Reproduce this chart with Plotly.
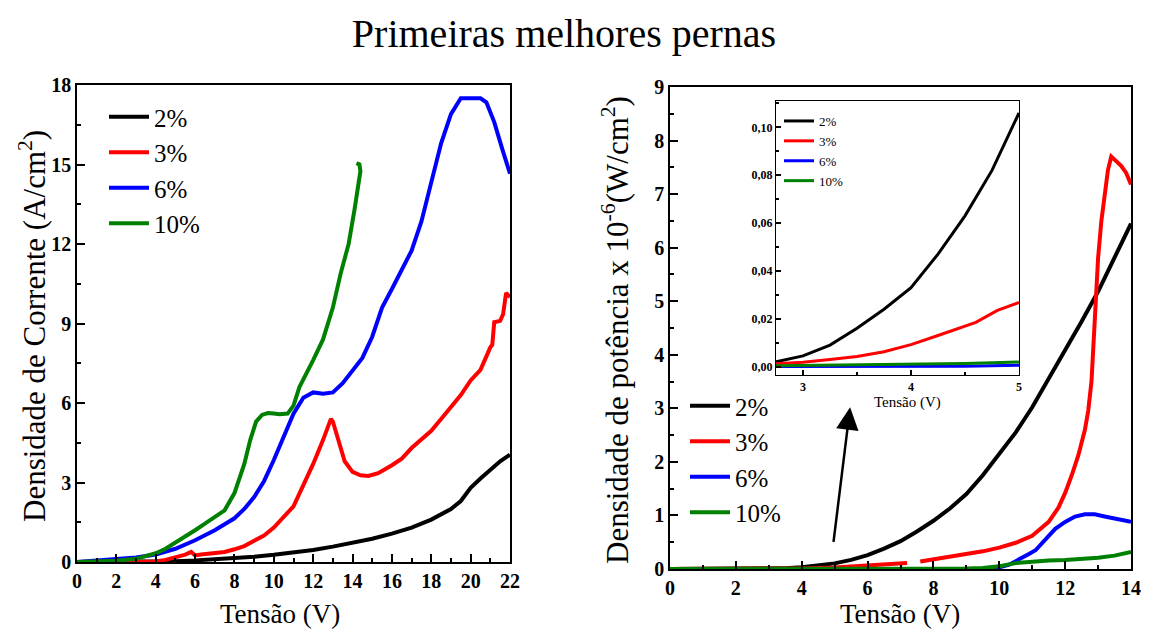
import plotly.graph_objects as go

# ---------------- Left panel: current density ----------------
L_black_x = [0, 2, 4, 5, 6, 7, 8, 9, 10, 11, 12, 13, 14, 15, 16, 17, 18, 19, 19.5, 20, 20.5, 21, 21.5, 22]
L_black_y = [0, 0, 0.01, 0.03, 0.06, 0.1, 0.15, 0.2, 0.27, 0.35, 0.45, 0.58, 0.72, 0.88, 1.07, 1.3, 1.6, 2.0, 2.3, 2.8, 3.15, 3.5, 3.8, 4.05]

L_red_x = [0, 3, 4, 4.5, 5, 5.5, 5.8, 6.0, 6.3, 7, 7.5, 8, 8.5, 9, 9.5, 10, 10.5, 11, 11.5, 12, 12.5, 12.9, 13.0,
           13.3, 13.6, 14, 14.4, 14.8, 15.3, 16, 16.5, 17, 17.5, 18, 18.5, 19, 19.5, 20, 20.5, 21, 21.1, 21.2, 21.5,
           21.65, 21.8, 22]
L_red_y = [0, 0, 0.02, 0.08, 0.18, 0.28, 0.38, 0.25, 0.28, 0.32, 0.38, 0.48, 0.6, 0.8, 1.0, 1.3, 1.7, 2.1, 2.9, 3.7,
           4.6, 5.4, 5.3, 4.5, 3.8, 3.4, 3.27, 3.25, 3.35, 3.65, 3.9, 4.3, 4.65, 4.95, 5.4, 5.85, 6.3, 6.85, 7.25,
           8.1, 8.2, 9.05, 9.1, 9.35, 10.15, 10.0]

L_blue_x = [0, 1, 2, 3, 4, 5, 6, 7, 8, 8.5, 9, 9.5, 10, 10.5, 11, 11.5, 12, 12.5, 13, 13.5, 14, 14.5, 15, 15.5, 16,
            16.5, 17, 17.5, 18, 18.5, 19, 19.5, 20, 20.5, 20.8, 21.2, 21.6, 22]
L_blue_y = [0, 0.05, 0.1, 0.17, 0.28, 0.5, 0.82, 1.2, 1.65, 2.0, 2.45, 3.05, 3.85, 4.7, 5.6, 6.2, 6.4, 6.35, 6.4,
            6.75, 7.2, 7.7, 8.5, 9.6, 10.3, 11.0, 11.75, 12.85, 14.35, 15.8, 16.9, 17.5, 17.5, 17.5, 17.35, 16.6,
            15.6, 14.65]

L_green_x = [0, 1, 2, 3, 4, 4.5, 5, 5.5, 6, 6.5, 7, 7.5, 8, 8.5, 8.8, 9.1, 9.4, 9.7, 10, 10.3, 10.7, 11, 11.3,
             11.7, 12, 12.5, 13, 13.4, 13.8, 14.1, 14.3, 14.4, 14.35, 14.2]
L_green_y = [0, 0.02, 0.05, 0.12, 0.33, 0.5, 0.72, 0.95, 1.2, 1.45, 1.72, 1.95, 2.6, 3.7, 4.6, 5.3, 5.55, 5.62,
             5.6, 5.58, 5.6, 5.9, 6.6, 7.15, 7.62, 8.4, 9.6, 10.9, 12.0, 13.3, 14.3, 14.75, 15.0, 15.05]

# ---------------- Right panel: power density ----------------
R_black_x = [0, 1, 2, 3, 3.5, 4, 4.5, 5, 5.5, 6, 6.5, 7, 7.5, 8, 8.5, 9, 9.5, 10, 10.5, 11, 11.5, 12, 12.5, 13, 13.5, 14]
R_black_y = [0, 0, 0, 0.005, 0.015, 0.033, 0.06, 0.105, 0.17, 0.26, 0.38, 0.52, 0.7, 0.9, 1.13, 1.4, 1.75, 2.15,
             2.55, 3.02, 3.55, 4.1, 4.62, 5.18, 5.8, 6.45]

R_red_x = [0, 2, 3, 4, 5, 6, 7.2, None, 7.6, 8, 8.5, 9, 9.5, 10, 10.5, 11, 11.5, 11.8, 12, 12.2, 12.4, 12.6, 12.7,
           12.8, 12.9, 13.0, 13.1, 13.2, 13.3, 13.4, 13.5, 13.7, 13.85, 14]
R_red_y = [0, 0, 0.002, 0.01, 0.03, 0.06, 0.11, None, 0.14, 0.18, 0.22, 0.27, 0.33, 0.4, 0.49, 0.62, 0.88, 1.15,
           1.42, 1.75, 2.12, 2.6, 2.95, 3.5, 4.85, 5.8, 6.5, 7.0, 7.45, 7.7, 7.65, 7.53, 7.4, 7.18]

R_blue_x = [0, 9, 9.5, 10, 10.3, 10.6, 10.75, 10.9, 11.1, 11.4, 11.7, 12, 12.3, 12.6, 12.9, 13.2, 13.6, 14]
R_blue_y = [0, 0, 0.005, 0.03, 0.08, 0.18, 0.24, 0.28, 0.35, 0.55, 0.75, 0.88, 0.98, 1.02, 1.02, 0.98, 0.93, 0.88]

R_green_x = [0, 8, 9, 9.5, 10, 10.5, 11, 11.5, 12, 12.5, 13, 13.5, 14]
R_green_y = [0, 0, 0.01, 0.02, 0.05, 0.11, 0.14, 0.16, 0.17, 0.19, 0.21, 0.25, 0.32]

# ---------------- Inset (zoom 2.75 - 5 V) ----------------
I_x = [2.75, 3.0, 3.25, 3.5, 3.75, 4.0, 4.25, 4.5, 4.75, 5.0]
I_black_y = [0.002, 0.0045, 0.009, 0.016, 0.024, 0.033, 0.047, 0.063, 0.082, 0.106]
I_red_x = [2.75, 3.0, 3.25, 3.5, 3.75, 4.0, 4.25, 4.45, 4.6, 4.8, 5.0]
I_red_y = [0.0012, 0.0018, 0.003, 0.0042, 0.0062, 0.0092, 0.013, 0.016, 0.0185, 0.0235, 0.0268]
I_blue_y = [0, 0, 0, 0, 0, 0, 0.0001, 0.0002, 0.0004, 0.0006]
I_green_y = [0.0004, 0.0005, 0.0006, 0.0007, 0.0008, 0.0009, 0.0011, 0.0013, 0.0016, 0.0019]

# arrow pointing from the main curves up to the inset (tail, head) in data units of the right panel
ARROW_TAIL = (4.96, 0.48)
ARROW_HEAD = (5.47, 3.02)

labels = ["2%", "3%", "6%", "10%"]
colors = ["#000000", "#ff0000", "#0000ff", "#008000"]

FONT = "'Liberation Serif', 'Times New Roman', Times, 'DejaVu Serif', serif"

# page geometry (the page body keeps an 8 px margin)
W, H, OFF = 1133, 623, 8


def fx(px):
    return (px - OFF) / W


def fy(py):
    return 1 - (py - OFF) / H


fig = go.Figure()

left = [(L_black_x, L_black_y), (L_red_x, L_red_y), (L_blue_x, L_blue_y), (L_green_x, L_green_y)]
right = [(R_black_x, R_black_y), (R_red_x, R_red_y), (R_blue_x, R_blue_y), (R_green_x, R_green_y)]
inset = [(I_x, I_black_y), (I_red_x, I_red_y), (I_x, I_blue_y), (I_x, I_green_y)]

for (x, y), lab, c in zip(left, labels, colors):
    fig.add_trace(go.Scatter(x=x, y=y, mode="lines", name=lab, line=dict(color=c, width=4),
                             xaxis="x", yaxis="y", legend="legend"))
for (x, y), lab, c in zip(right, labels, colors):
    fig.add_trace(go.Scatter(x=x, y=y, mode="lines", name=lab, line=dict(color=c, width=4),
                             xaxis="x2", yaxis="y2", legend="legend2"))
for (x, y), lab, c in zip(inset, labels, colors):
    fig.add_trace(go.Scatter(x=x, y=y, mode="lines", name=lab, line=dict(color=c, width=3),
                             xaxis="x3", yaxis="y3", legend="legend3"))


def axis(size=20, ticklen=8, minor_len=4, **kw):
    d = dict(showline=True, linecolor="black", linewidth=1.5, mirror=True,
             ticks="inside", ticklen=ticklen, tickwidth=1.5, tickcolor="black",
             showgrid=False, zeroline=False,
             tickfont=dict(family=FONT, size=size, weight="bold", color="black"),
             minor=dict(ticks="inside", ticklen=minor_len, tickwidth=1.5, tickcolor="black", showgrid=False))
    d.update(kw)
    return d


legend_common = dict(xanchor="left", yanchor="top", bgcolor="rgba(0,0,0,0)", traceorder="normal",
                     tracegroupgap=0)

fig.update_layout(
    width=W, height=H, autosize=False,
    margin=dict(l=0, r=0, t=0, b=0, pad=0, autoexpand=False),
    paper_bgcolor="white", plot_bgcolor="white",
    separators=",.",
    font=dict(family=FONT, color="black"),
    title=dict(text="Primeiras melhores pernas", x=fx(564), y=fy(33), xref="paper", yref="paper",
               xanchor="center", yanchor="middle",
               font=dict(family=FONT, size=40, color="black")),
    xaxis=axis(domain=[fx(77), fx(510)], range=[0, 22], dtick=2, anchor="y"),
    yaxis=axis(domain=[fy(562), fy(85)], range=[0, 18], dtick=3, anchor="x"),
    xaxis2=axis(domain=[fx(670), fx(1131)], range=[0, 14], dtick=2, anchor="y2"),
    yaxis2=axis(domain=[fy(569), fy(87)], range=[0, 9], dtick=1, anchor="x2"),
    xaxis3=axis(size=12, ticklen=5, minor_len=3, domain=[fx(776), fx(1019)], range=[2.75, 5], dtick=1,
                anchor="y3", linewidth=1.2),
    yaxis3=axis(size=12, ticklen=5, minor_len=3, domain=[fy(375), fy(101)], range=[-0.0035, 0.111], dtick=0.02,
                tickformat=".2f", anchor="x3", linewidth=1.2),
    legend=dict(x=fx(104), y=fy(94), font=dict(family=FONT, size=25, color="black"), itemwidth=40, **legend_common),
    legend2=dict(x=fx(685), y=fy(383), font=dict(family=FONT, size=25, color="black"), itemwidth=40, **legend_common),
    legend3=dict(x=fx(779), y=fy(106), font=dict(family=FONT, size=13, color="black"), itemwidth=30, **legend_common),
)

fig.update_layout(xaxis3_minor_dtick=0.5, yaxis3_minor_dtick=0.01,
                  xaxis_minor_dtick=1, yaxis_minor_dtick=1.5,
                  xaxis2_minor_dtick=1, yaxis2_minor_dtick=0.5)

annotations = [
    dict(text="Tensão (V)", x=fx(280), y=fy(614), font=dict(family=FONT, size=27, color="black")),
    dict(text="Tensão (V)", x=fx(900), y=fy(614), font=dict(family=FONT, size=27, color="black")),
    dict(text="Densidade de Corrente (A/cm<sup>2</sup>)", x=fx(32), y=fy(326), textangle=-90,
         font=dict(family=FONT, size=31, color="black")),
    dict(text="Densidade de potência x 10<sup>-6</sup>(W/cm<sup>2</sup>)", x=fx(615), y=fy(330), textangle=-90,
         font=dict(family=FONT, size=31, color="black")),
    dict(text="Tensão (V)", x=fx(907), y=fy(403), font=dict(family=FONT, size=15, color="black")),
]
for a in annotations:
    a.update(xref="paper", yref="paper", xanchor="center", yanchor="middle", showarrow=False)
annotations.append(dict(text="", x=ARROW_HEAD[0], y=ARROW_HEAD[1], ax=ARROW_TAIL[0], ay=ARROW_TAIL[1],
                        xref="x2", yref="y2", axref="x2", ayref="y2",
                        showarrow=True, arrowhead=2, arrowsize=1.8, arrowwidth=2.5, arrowcolor="black"))
fig.update_layout(annotations=annotations)

fig.write_html("out.html")
